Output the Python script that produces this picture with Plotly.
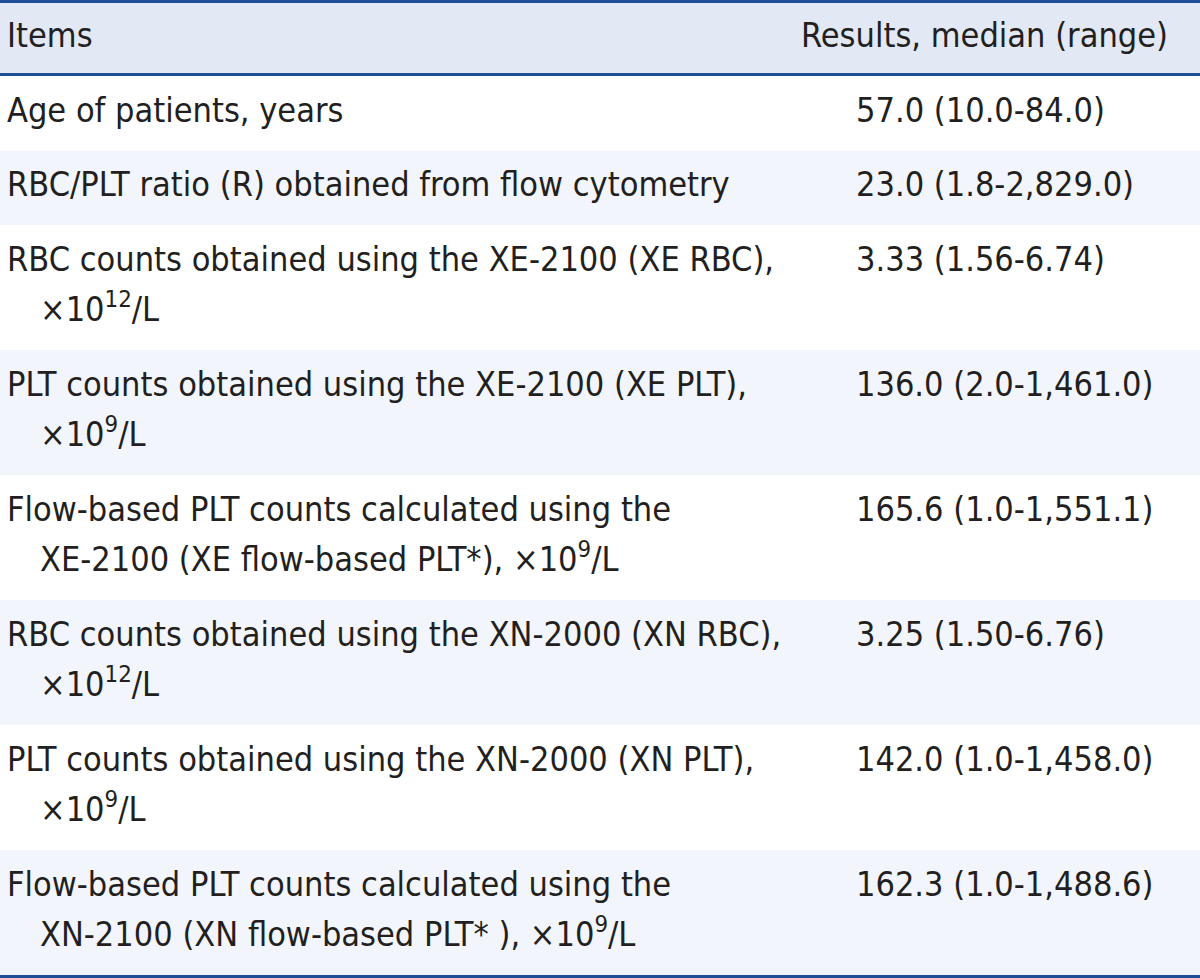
"""Table: haematology analyser results, median (range)."""

import plotly.graph_objects as go

headers = ["Items", "Results, median (range)"]

items = [
    "Age of patients, years",
    "RBC/PLT ratio (R) obtained from flow cytometry",
    "RBC counts obtained using the XE-2100 (XE RBC),<br>×10<sup>12</sup>/L",
    "PLT counts obtained using the XE-2100 (XE PLT),<br>×10<sup>9</sup>/L",
    "Flow-based PLT counts calculated using the<br>XE-2100 (XE flow-based PLT*), ×10<sup>9</sup>/L",
    "RBC counts obtained using the XN-2000 (XN RBC),<br>×10<sup>12</sup>/L",
    "PLT counts obtained using the XN-2000 (XN PLT),<br>×10<sup>9</sup>/L",
    "Flow-based PLT counts calculated using the<br>XN-2100 (XN flow-based PLT* ), ×10<sup>9</sup>/L",
]

results = [
    "57.0 (10.0-84.0)",
    "23.0 (1.8-2,829.0)",
    "3.33 (1.56-6.74)",
    "136.0 (2.0-1,461.0)",
    "165.6 (1.0-1,551.1)",
    "3.25 (1.50-6.76)",
    "142.0 (1.0-1,458.0)",
    "162.3 (1.0-1,488.6)",
]

RULE = "#1f4d96"
HEADER_FILL = "#e2e8f4"
STRIPE = ["#ffffff", "#f2f5fb"]
TEXT = "#231f20"
FONT = {"family": "DejaVu Sans Condensed, DejaVu Sans, sans-serif", "size": 34, "color": TEXT}

W, H = 1200, 978
TOP_RULE, MID_RULE, BOTTOM_RULE = 3, 3, 3
HEADER_H = 70
LINE_STEP = 50.5
ROW_PAD = 24
X_ITEM, X_INDENT, X_RESULT, X_RESULT_HEAD = 7, 40, 856, 1168

fig = go.Figure()

# header band
header_top = TOP_RULE
header_bottom = header_top + HEADER_H
header_mid = (header_top + header_bottom) / 2
fig.add_shape(type="rect", x0=0, x1=W, y0=header_top, y1=header_bottom,
              fillcolor=HEADER_FILL, line_width=0, layer="below")

# body rows: height follows the number of printed lines of each item
left_x, left_y, left_text = [], [], []
right_y = []
y = header_bottom + MID_RULE
for i, item in enumerate(items):
    lines = item.split("<br>")
    row_h = ROW_PAD + LINE_STEP * len(lines)
    fig.add_shape(type="rect", x0=0, x1=W, y0=y, y1=y + row_h,
                  fillcolor=STRIPE[i % 2], line_width=0, layer="below")
    mid = y + row_h / 2
    first = mid - LINE_STEP * (len(lines) - 1) / 2
    for j, line in enumerate(lines):
        left_x.append(X_ITEM if j == 0 else X_INDENT)
        left_y.append(first + j * LINE_STEP)
        left_text.append(line)
    right_y.append(first)
    y += row_h
body_bottom = y

for y0, width in [(0, TOP_RULE), (header_bottom, MID_RULE), (body_bottom, BOTTOM_RULE)]:
    fig.add_shape(type="rect", x0=0, x1=W, y0=y0, y1=y0 + width,
                  fillcolor=RULE, line_width=0)

fig.add_trace(go.Scatter(
    x=[X_ITEM], y=[header_mid], text=[headers[0]], mode="text",
    textposition="middle right", textfont=FONT, hoverinfo="skip",
))
fig.add_trace(go.Scatter(
    x=[X_RESULT_HEAD], y=[header_mid], text=[headers[1]], mode="text",
    textposition="middle left", textfont=FONT, hoverinfo="skip",
))
fig.add_trace(go.Scatter(
    x=left_x, y=left_y, text=left_text, mode="text",
    textposition="middle right", textfont=FONT, hoverinfo="skip",
))
fig.add_trace(go.Scatter(
    x=[X_RESULT] * len(results), y=right_y, text=results, mode="text",
    textposition="middle right", textfont=FONT, hoverinfo="skip",
))

fig.update_xaxes(range=[0, W], visible=False, fixedrange=True)
fig.update_yaxes(range=[H, 0], visible=False, fixedrange=True)
fig.update_layout(
    width=W,
    height=H,
    margin={"l": 0, "r": 0, "t": 0, "b": 0},
    paper_bgcolor="white",
    plot_bgcolor="white",
    showlegend=False,
)

fig.write_html(
    "out.html",
    config={"displayModeBar": False},
    post_script="document.body.style.margin = '0';",
)
